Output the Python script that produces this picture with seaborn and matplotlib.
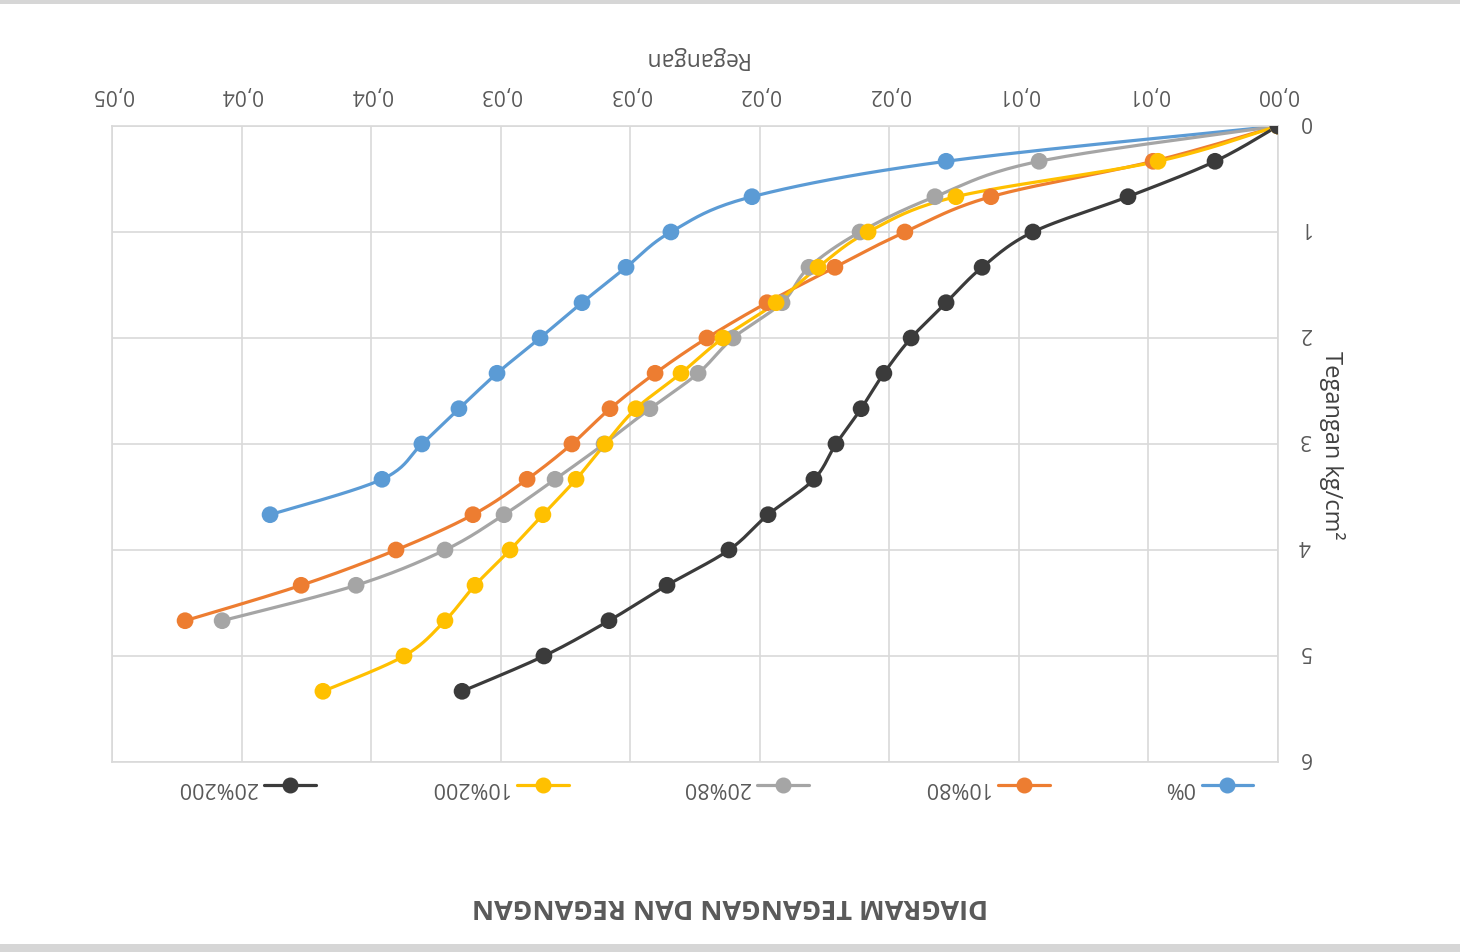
import numpy as np
import matplotlib
matplotlib.use("Agg")
import matplotlib.pyplot as plt
from matplotlib.lines import Line2D
from matplotlib.patches import Rectangle
from matplotlib.transforms import ScaledTranslation
import seaborn as sns

# Data: tegangan (kg/cm2) dan regangan per variasi
tegangan = [0, 0.333, 0.667, 1.0, 1.333, 1.667, 2.0, 2.333, 2.667, 3.0,
            3.333, 3.667, 4.0, 4.333, 4.667, 5.0, 5.333]

reg_0 = [0, 0.01281, 0.02030, 0.02343, 0.02516, 0.02686, 0.02848, 0.03014,
         0.03161, 0.03304, 0.03458, 0.03890]
reg_10_80 = [0, 0.00482, 0.01108, 0.01440, 0.01710, 0.01972, 0.02204, 0.02404,
             0.02578, 0.02725, 0.02898, 0.03107, 0.03404, 0.03770, 0.04218]
reg_20_80 = [0, 0.00922, 0.01324, 0.01613, 0.01810, 0.01914, 0.02103, 0.02238,
             0.02424, 0.02601, 0.02790, 0.02987, 0.03215, 0.03558, 0.04075]
reg_10_200 = [0, 0.00463, 0.01243, 0.01582, 0.01775, 0.01937, 0.02142, 0.02304,
              0.02478, 0.02597, 0.02709, 0.02837, 0.02964, 0.03099, 0.03215,
              0.03373, 0.03686]
reg_20_200 = [0, 0.00243, 0.00579, 0.00946, 0.01142, 0.01281, 0.01416, 0.01521,
              0.01609, 0.01706, 0.01791, 0.01968, 0.02119, 0.02358, 0.02582,
              0.02833, 0.03149]

series_names = ["0%", "10%80", "20%80", "10%200", "20%200"]
series_data = [reg_0, reg_10_80, reg_20_80, reg_10_200, reg_20_200]
colors = ["#5B9BD5", "#ED7D31", "#A5A5A5", "#FFC000", "#3B3B3B"]

x_ticks = [0, 0.005, 0.01, 0.015, 0.02, 0.025, 0.03, 0.035, 0.04, 0.045]
x_ticklabels = ["0,00", "0,01", "0,01", "0,02", "0,02", "0,03", "0,03",
                "0,04", "0,04", "0,05"]
y_ticks = [0, 1, 2, 3, 4, 5, 6]


def smooth(xs, ys, n=24):
    # kurva halus ala Excel (Catmull-Rom -> Bezier)
    p = np.column_stack([xs, ys]).astype(float)
    p = np.vstack([p[0], p, p[-1]])
    t = np.linspace(0, 1, n)[:, None]
    out = []
    for i in range(1, len(p) - 2):
        p0, p1, p2, p3 = p[i - 1], p[i], p[i + 1], p[i + 2]
        c1 = p1 + (p2 - p0) / 6
        c2 = p2 - (p3 - p1) / 6
        seg = ((1 - t) ** 3) * p1 + 3 * ((1 - t) ** 2) * t * c1 \
            + 3 * (1 - t) * t ** 2 * c2 + t ** 3 * p2
        out.append(seg)
    out = np.vstack(out)
    return out[:, 0], out[:, 1]


sns.set_style("white")
plt.rcParams['font.family'] = ['Open Sans', 'DejaVu Sans']
txt = "#595959"

fig = plt.figure(figsize=(14.6, 9.53), dpi=100)
ax = fig.add_axes([112 / 1460, 1 - 763 / 953, 1166 / 1460, 636 / 953])

for name, reg, c in zip(series_names, series_data, colors):
    y = tegangan[:len(reg)]
    sx, sy = smooth(reg, y)
    sns.lineplot(x=sx, y=sy, sort=False, estimator=None, color=c, lw=2.3,
                 ax=ax, legend=False)
    sns.scatterplot(x=reg, y=y, color=c, s=145, edgecolor="none", ax=ax,
                    legend=False, zorder=3)

ax.set_xlim(0.045, 0)
ax.set_ylim(6, 0)
ax.set_xticks(x_ticks)
ax.set_xticklabels(x_ticklabels)
ax.set_yticks(y_ticks)
ax.xaxis.tick_top()
ax.xaxis.set_label_position("top")
ax.yaxis.tick_right()
ax.yaxis.set_label_position("right")
ax.tick_params(axis="x", length=0, pad=16, labelsize=15, labelcolor=txt,
               labelrotation=180)
ax.tick_params(axis="y", length=0, pad=15, labelsize=15, labelcolor=txt,
               labelrotation=180)
# geser label y sedikit ke atas (teks terbalik)
geser = ScaledTranslation(0, 0.05, fig.dpi_scale_trans)
for t in ax.yaxis.get_majorticklabels():
    t.set_va("center")
    t.set_transform(t.get_transform() + geser)
ax.grid(True, color="#D9D9D9", lw=1.2)
for s in ax.spines.values():
    s.set_color("#D9D9D9")
    s.set_linewidth(1.2)

ax.set_xlabel("Regangan", fontsize=16.5, color=txt, rotation=180, labelpad=14)
ax.set_ylabel("Tegangan kg/cm²", fontsize=17, color="#404040", rotation=270,
              labelpad=6, va="bottom")

# legenda (terbalik)
handles = [Line2D([], [], color=c, lw=2.3, marker="o", markersize=10.5)
           for c in colors][::-1]
labels = series_names[::-1]
leg = fig.legend(handles, labels, loc="center", ncol=5,
                 bbox_to_anchor=(0.49, 1 - 788 / 953), frameon=False,
                 markerfirst=False, handlelength=2.4, columnspacing=5.3,
                 handletextpad=0.35, fontsize=15.5)
for t in leg.get_texts():
    t.set_rotation(180)
    t.set_color(txt)

fig.text(0.5, 1 - 906 / 953, "DIAGRAM TEGANGAN DAN REGANGAN", rotation=180,
         ha="center", va="center", fontsize=19.5, fontweight="bold", color=txt)

# tepi abu-abu
fig.add_artist(Rectangle((0, 1 - 5 / 953), 1, 5 / 953, transform=fig.transFigure,
                         color="#D6D6D6", lw=0))
fig.add_artist(Rectangle((0, 0), 1, 8 / 953, transform=fig.transFigure,
                         color="#D6D6D6", lw=0))

fig.savefig("out.png", dpi=100)
